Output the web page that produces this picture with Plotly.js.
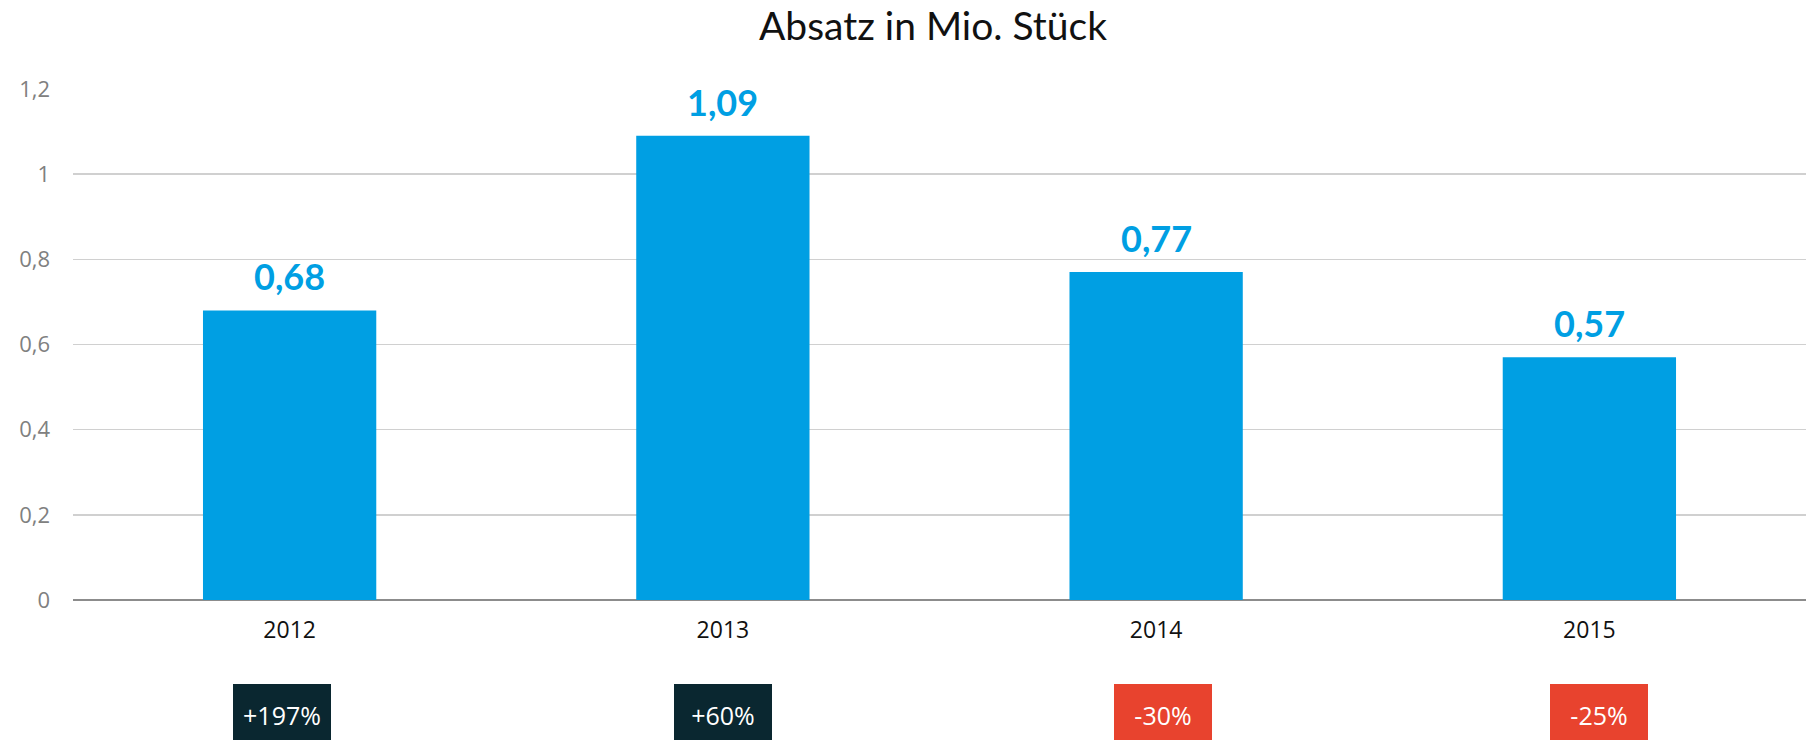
<!DOCTYPE html>
<html>
<head>
<meta charset="utf-8">
<script src="https://cdn.plot.ly/plotly-3.0.1.min.js"></script>
<style>html,body{margin:0;padding:0;background:#fff;}#chart{width:1813px;height:740px;}</style>
</head>
<body>
<div id="chart"></div>
<script>
const years = ["2012", "2013", "2014", "2015"];
const absatz = [0.68, 1.09, 0.77, 0.57];
const changes = ["+197%", "+60%", "-30%", "-25%"];
const changeColors = ["#0a2730", "#0a2730", "#e8432e", "#e8432e"];

const boxX = [282, 723, 1163, 1599];      // box centres (px)
const boxW = 98;

const W = 1813, H = 740;
const mL = 73, mR = 7, mT = 89, mB = 140;
const plotW = W - mL - mR, plotH = H - mT - mB;

const trace = {
  type: "bar",
  x: years,
  y: absatz,
  marker: {color: "#009fe3"},
  width: 0.4,
  hoverinfo: "none"
};

const valueAnns = years.map((yr, i) => ({
  x: i, y: absatz[i], xref: "x", yref: "y",
  text: "<b>" + absatz[i].toFixed(2).replace(".", ",") + "</b>",
  showarrow: false, yanchor: "bottom", yshift: 10,
  font: {family: "Lato, 'Open Sans', sans-serif", size: 36, color: "#009fe3"}
}));

const changeAnns = changes.map((c, i) => ({
  x: (boxX[i] - mL) / plotW, y: (mT + plotH - 684) / plotH,
  xref: "paper", yref: "paper", xanchor: "center", yanchor: "top",
  text: c, showarrow: false,
  bgcolor: changeColors[i], borderpad: 0, borderwidth: 0,
  width: boxW, height: 62, align: "center", valign: "middle",
  font: {family: "'Open Sans', Lato, sans-serif", size: 25, color: "#ffffff"}
}));

const layout = {
  width: W, height: H,
  margin: {l: mL, r: mR, t: mT, b: mB, pad: 0},
  paper_bgcolor: "#ffffff", plot_bgcolor: "#ffffff",
  separators: ",.",
  title: {
    text: "Absatz in Mio. Stück",
    x: 933 / W, xref: "container", xanchor: "center",
    y: 1 - 26 / H, yref: "container", yanchor: "middle",
    font: {family: "Lato, 'Open Sans', sans-serif", size: 39, color: "#111111"}
  },
  showlegend: false,
  bargap: 0.6,
  xaxis: {
    type: "category",
    range: [-0.5, 3.5],
    autorange: false,
    showgrid: false,
    showline: false,
    zeroline: false,
    ticks: "",
    ticklabelstandoff: 14,
    tickfont: {family: "'Open Sans', Lato, sans-serif", size: 23, color: "#111111"}
  },
  yaxis: {
    range: [0, 1.2],
    autorange: false,
    dtick: 0.2,
    tick0: 0,
    showgrid: true,
    gridcolor: "#d0d0d0",
    gridwidth: 1.5,
    zeroline: true,
    zerolinecolor: "#8c8c8c",
    zerolinewidth: 2,
    showline: false,
    ticks: "",
    ticklabelstandoff: 22,
    tickfont: {family: "'Open Sans', Lato, sans-serif", size: 22, color: "#808080"}
  },
  annotations: valueAnns.concat(changeAnns)
};

Plotly.newPlot("chart", [trace], layout, {displayModeBar: false, staticPlot: true});
</script>
</body>
</html>
